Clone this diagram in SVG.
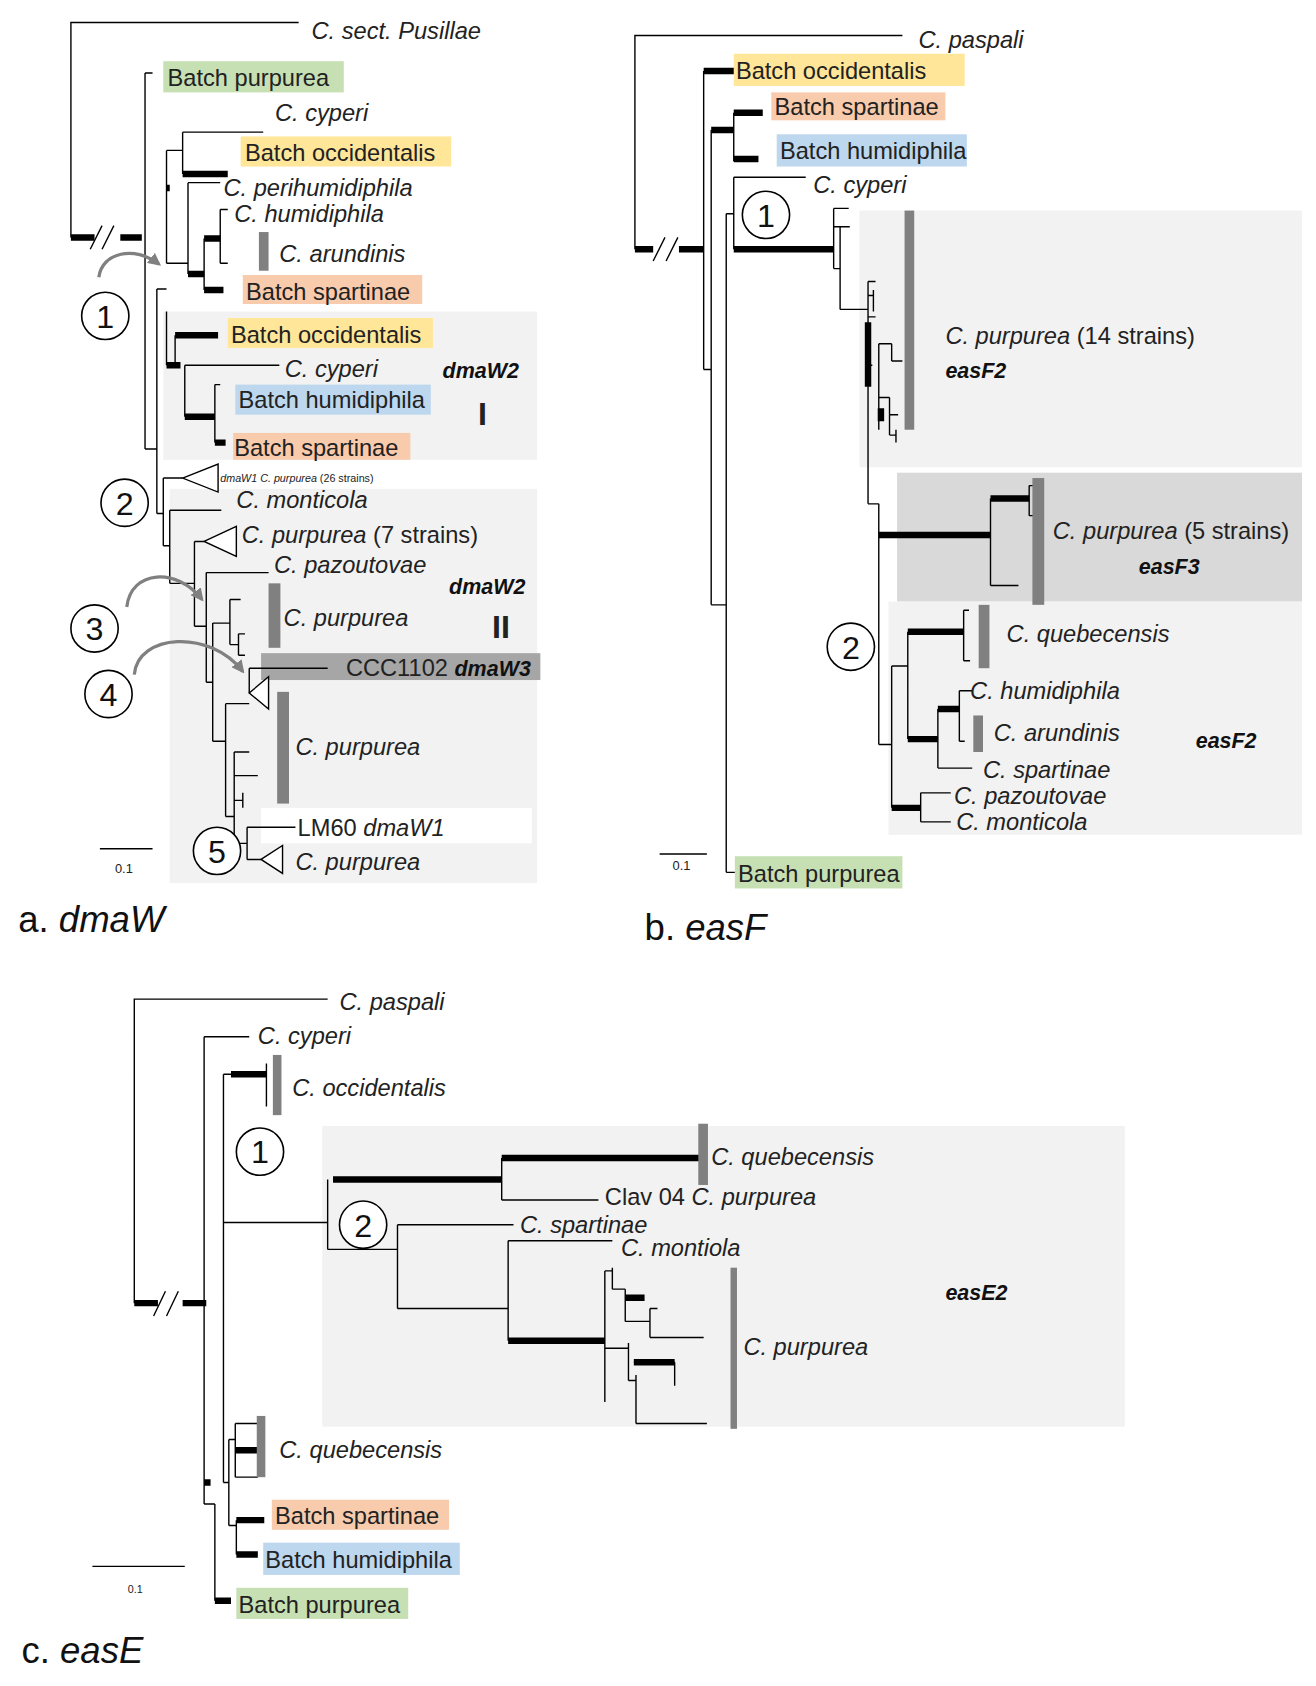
<svg xmlns="http://www.w3.org/2000/svg" width="1316" height="1686" viewBox="0 0 1316 1686">
<style>
.l{stroke:#000;stroke-width:1.3;fill:none}
.t{stroke:#000;stroke-width:6;fill:none}
.bar{fill:#808080}
.i{font-family:"Liberation Sans",Arial,sans-serif;font-style:italic;font-size:22px;fill:#222}
.n{font-family:"Liberation Sans",Arial,sans-serif;font-size:22px;fill:#222}
.b{font-family:"Liberation Sans",Arial,sans-serif;font-style:italic;font-weight:bold;font-size:20px;fill:#111}
.big{font-family:"Liberation Sans",Arial,sans-serif;font-size:34px;fill:#111}
.c{fill:#fff;stroke:#000;stroke-width:1.5}
.cn{font-family:"Liberation Sans",Arial,sans-serif;font-size:30px;fill:#111;text-anchor:middle}
.arr{stroke:#808080;stroke-width:3;fill:none;marker-end:url(#ah)}
.tri{fill:#fff;stroke:#000;stroke-width:1.3}
</style>
<defs>
<marker id="ah" viewBox="0 0 10 10" refX="8" refY="5" markerWidth="4" markerHeight="4" orient="auto"><path d="M0,0L10,5L0,10z" fill="#808080"/></marker>
</defs>
<rect width="1316" height="1686" fill="#fff"/>
<g transform="scale(1.0743)">
<!-- backgrounds -->
<g id="bg">
<rect x="152" y="290" width="348" height="138" fill="#f2f2f2"/>
<rect x="158" y="455" width="342" height="367" fill="#f2f2f2"/>
<rect x="243" y="608" width="260" height="25" fill="#a6a6a6"/>
<rect x="243" y="752" width="252" height="33" fill="#fff"/>
<rect x="800" y="196" width="412" height="239" fill="#f2f2f2"/>
<rect x="835" y="440" width="377" height="120" fill="#d9d9d9"/>
<rect x="827" y="560" width="385" height="217" fill="#f2f2f2"/>
<rect x="300" y="1048" width="747" height="280" fill="#f2f2f2"/>
<rect x="152" y="57" width="168" height="29" fill="#c6e0b4"/>
<rect x="224" y="127" width="196" height="28" fill="#ffe699"/>
<rect x="226" y="256" width="167" height="27" fill="#f8cbad"/>
<rect x="212" y="296" width="191" height="28" fill="#ffe699"/>
<rect x="219" y="358" width="182" height="28" fill="#bdd7ee"/>
<rect x="217" y="403" width="165" height="25" fill="#f8cbad"/>
<rect x="683" y="50" width="215" height="30" fill="#ffe699"/>
<rect x="718" y="86" width="162" height="26" fill="#f8cbad"/>
<rect x="723" y="125" width="177" height="30" fill="#bdd7ee"/>
<rect x="684" y="797" width="156" height="30" fill="#c6e0b4"/>
<rect x="253" y="1396" width="165" height="28" fill="#f8cbad"/>
<rect x="245" y="1436" width="183" height="30" fill="#bdd7ee"/>
<rect x="220" y="1478" width="160" height="29" fill="#c6e0b4"/>
</g>
<g id="connectors">
<!-- panel a -->
<path class="l" d="M66,221V21H278M135,68V418M135,68H142M135,418H146M146,269V478M146,269H155M155,140V245"/>
<path class="t" d="M66,221H88M112,221H132"/>
<path class="l" d="M84,232L95,210M95,232L106,210"/>
<path class="l" d="M155,140H170M170,123V162M170,123H245M155,245H175M175,170V255M175,170H205M190,222V270M205,195V245M205,195H212M205,245H212M205,222V245"/>
<path class="t" d="M170,162H212M155,175H158M175,255H190M190,222H205M190,270H208"/>
<path class="l" d="M155,290V340M163,312V340M172,340V388M172,340H260M200,358V412M200,358H205"/>
<path class="t" d="M163,312H203M155,340H168M172,388H200M200,412H210"/>
<path class="l" d="M146,478H152M152,445V508M152,445H170M152,508H158M158,475V543M158,475H206M158,543H181M181,504V583M181,504H190M181,583H192M192,533V635M192,533H250M192,635H198M198,580V690M198,580H214M214,558V600M214,558H224M214,600H222M222,590V610M222,590H228M222,610H228M198,690H210M210,655V760M210,655H232M232,622V645M232,622H305M210,760H218M218,700V785M218,700H232M218,722H240M218,745H226M226,738V752M218,785H230M230,770V800M230,770H275M230,800H243"/>
<polygon class="tri" points="170,445 203,432 203,458"/>
<polygon class="tri" points="190,504 220,490 220,518"/>
<polygon class="tri" points="232,645 250,630 250,660"/>
<polygon class="tri" points="243,800 263,787 263,813"/>
<path class="arr" d="M92,258C95,235 125,228 148,246"/>
<path class="arr" d="M118,565C122,530 165,528 188,558"/>
<path class="arr" d="M125,628C128,590 195,585 226,625"/>
<!-- panel b -->
<path class="l" d="M591,232V33H840M655,66V344M655,344H662M662,121V563M662,563H676M676,199V812M676,812H684M683,105V150M676,199H683M683,165V232M683,165H750"/>
<path class="t" d="M591,232H608M632,232H655M655,66H683M662,121H683M683,105H710M683,148H706M683,232H776"/>
<path class="l" d="M608,243L619,221M620,243L631,221"/>
<path class="l" d="M776,194V250M776,194H790M776,211H791M776,250H782M782,211V288M782,211H788M782,288H808M808,262V469M808,262H815M808,275H813M813,270V290M808,295H815M808,340H812M808,469H818M818,320V400M818,320H830M830,320V336M830,336H840M818,370H828M828,370V405M828,386H836M828,405H834M834,400V412"/>
<path class="t" d="M808,300V360M820,380V392"/>
<path class="l" d="M818,469V693M818,693H830M830,620V752M830,620H845M845,588V688M897,568V615M897,568H902M897,615H903M922,464V545M922,545H948M958,452V480M958,452H965M958,480H962M893,643V690M893,643H905M893,690H898M873,660V715M873,715H905M857,738V765M857,738H885M857,765H885"/>
<path class="t" d="M818,498H922M922,464H958M845,588H897M845,688H873M873,660H893M830,752H857"/>
<!-- panel c -->
<path class="l" d="M125,1213V930H305M190,965V1400M190,965H232M208,1000V1140M208,1000H215M248,990V1030M208,1138H305M305,1098V1163M467,1078V1117M467,1117H557M305,1163H370M370,1140V1218M370,1140H478M370,1218H473M473,1155V1248M473,1155H570M563,1183V1305M563,1183H570M570,1180V1200M570,1200H582M582,1200V1230M582,1230H605M605,1218V1245M605,1218H612M605,1245H655M563,1255H585M585,1250V1285M585,1285H592M592,1280V1325M592,1325H658M590,1268H628M628,1268V1290M208,1138V1380M208,1380H213M213,1340V1420M213,1340H219M219,1325V1375M219,1325H240M219,1375H240M213,1420H220M220,1415V1447M190,1400H200M200,1400V1490"/>
<path class="t" d="M125,1213H147M170,1213H192M215,1000H248M310,1098H467M467,1078H655M473,1248H563M582,1208H600M590,1268H628M219,1350H240M220,1415H246M220,1447H240M200,1490H215M190,1380H196"/>
<path class="l" d="M143,1225L154,1202M155,1225L166,1202"/>
<!-- scale bars -->
<path class="l" d="M93,790H142M614,795H658M86,1458H172"/>
</g>
<g id="bars">
<rect class="bar" x="241" y="216" width="9" height="36"/>
<rect class="bar" x="250" y="543" width="11" height="60"/>
<rect class="bar" x="258" y="644" width="11" height="104"/>
<rect class="bar" x="842" y="196" width="9" height="204"/>
<rect class="bar" x="961" y="445" width="11" height="118"/>
<rect class="bar" x="911" y="563" width="10" height="59"/>
<rect class="bar" x="906" y="666" width="9" height="34"/>
<rect class="bar" x="254" y="982" width="8" height="56"/>
<rect class="bar" x="650" y="1046" width="9" height="57"/>
<rect class="bar" x="680" y="1180" width="6" height="150"/>
<rect class="bar" x="239" y="1318" width="8" height="57"/>
</g>
<g id="circles">
<circle class="c" cx="98" cy="294" r="22"/><text class="cn" x="98" y="305">1</text>
<circle class="c" cx="116" cy="468" r="22"/><text class="cn" x="116" y="479">2</text>
<circle class="c" cx="88" cy="585" r="22"/><text class="cn" x="88" y="596">3</text>
<circle class="c" cx="101" cy="646" r="22"/><text class="cn" x="101" y="657">4</text>
<circle class="c" cx="202" cy="792" r="22"/><text class="cn" x="202" y="803">5</text>
<circle class="c" cx="713" cy="200" r="22"/><text class="cn" x="713" y="211">1</text>
<circle class="c" cx="792" cy="602" r="22"/><text class="cn" x="792" y="613">2</text>
<circle class="c" cx="242" cy="1072" r="22"/><text class="cn" x="242" y="1083">1</text>
<circle class="c" cx="338" cy="1140" r="22"/><text class="cn" x="338" y="1151">2</text>
</g>
<g id="labels">
<text class="i" x="290" y="36">C. sect. Pusillae</text>
<text class="n" x="156" y="80">Batch purpurea</text>
<text class="i" x="256" y="113">C. cyperi</text>
<text class="n" x="228" y="150">Batch occidentalis</text>
<text class="i" x="208" y="182">C. perihumidiphila</text>
<text class="i" x="218" y="207">C. humidiphila</text>
<text class="i" x="260" y="244">C. arundinis</text>
<text class="n" x="229" y="279">Batch spartinae</text>
<text class="n" x="215" y="319">Batch occidentalis</text>
<text class="i" x="265" y="351">C. cyperi</text>
<text class="b" x="412" y="352">dmaW2</text>
<text class="n" x="445" y="396" style="font-weight:bold;font-size:30px">I</text>
<text class="n" x="222" y="380">Batch humidiphila</text>
<text class="n" x="218" y="424">Batch spartinae</text>
<text class="i" x="205" y="449" style="font-size:10px">dmaW1  C. purpurea  <tspan font-style="normal">(26 strains)</tspan></text>
<text class="i" x="220" y="473">C. monticola</text>
<text class="i" x="225" y="505">C. purpurea <tspan font-style="normal">(7 strains)</tspan></text>
<text class="i" x="255" y="533">C. pazoutovae</text>
<text class="b" x="418" y="553">dmaW2</text>
<text class="n" x="458" y="594" style="font-weight:bold;font-size:30px">II</text>
<text class="i" x="264" y="583">C. purpurea</text>
<text class="n" x="322" y="629">CCC1102 <tspan class="b">dmaW3</tspan></text>
<text class="i" x="275" y="703">C. purpurea</text>
<text class="n" x="277" y="778">LM60 <tspan font-style="italic">dmaW1</tspan></text>
<text class="i" x="275" y="810">C. purpurea</text>
<text class="n" x="107" y="813" style="font-size:12px">0.1</text>
<text class="big" x="17" y="868">a. <tspan font-style="italic">dmaW</tspan></text>

<text class="i" x="855" y="45">C. paspali</text>
<text class="n" x="685" y="74">Batch occidentalis</text>
<text class="n" x="721" y="107">Batch spartinae</text>
<text class="n" x="726" y="148">Batch humidiphila</text>
<text class="i" x="757" y="180">C. cyperi</text>
<text class="i" x="880" y="320">C. purpurea <tspan font-style="normal">(14 strains)</tspan></text>
<text class="b" x="880" y="352">easF2</text>
<text class="i" x="980" y="502">C. purpurea <tspan font-style="normal">(5 strains)</tspan></text>
<text class="b" x="1060" y="534">easF3</text>
<text class="i" x="937" y="598">C. quebecensis</text>
<text class="i" x="903" y="651">C. humidiphila</text>
<text class="i" x="925" y="690">C. arundinis</text>
<text class="b" x="1113" y="696">easF2</text>
<text class="i" x="915" y="724">C. spartinae</text>
<text class="i" x="888" y="748">C. pazoutovae</text>
<text class="i" x="890" y="773">C. monticola</text>
<text class="n" x="687" y="821">Batch purpurea</text>
<text class="n" x="626" y="810" style="font-size:12px">0.1</text>
<text class="big" x="600" y="875">b. <tspan font-style="italic">easF</tspan></text>

<text class="i" x="316" y="940">C. paspali</text>
<text class="i" x="240" y="972">C. cyperi</text>
<text class="i" x="272" y="1020">C. occidentalis</text>
<text class="i" x="662" y="1084">C. quebecensis</text>
<text class="n" x="563" y="1122">Clav 04 <tspan font-style="italic">C. purpurea</tspan></text>
<text class="i" x="484" y="1148">C. spartinae</text>
<text class="i" x="578" y="1169">C. montiola</text>
<text class="b" x="880" y="1210">easE2</text>
<text class="i" x="692" y="1261">C. purpurea</text>
<text class="i" x="260" y="1357">C. quebecensis</text>
<text class="n" x="256" y="1419">Batch spartinae</text>
<text class="n" x="247" y="1460">Batch humidiphila</text>
<text class="n" x="222" y="1501">Batch purpurea</text>
<text class="n" x="119" y="1483" style="font-size:10px">0.1</text>
<text class="big" x="20" y="1548">c. <tspan font-style="italic">easE</tspan></text>
</g>
</g>
</svg>
